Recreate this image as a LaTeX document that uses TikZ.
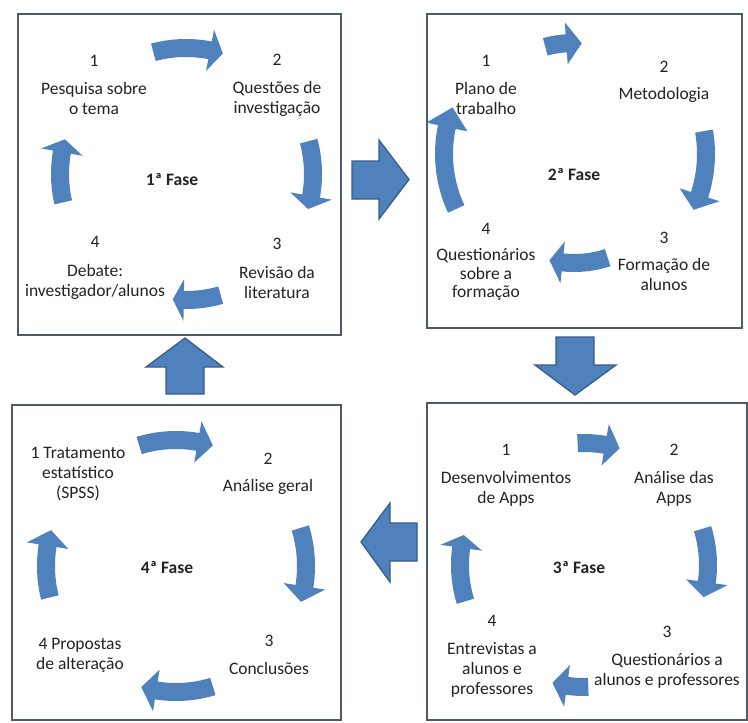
\documentclass[tikz,border=0pt]{standalone}
\usepackage{fontspec}
\setmainfont{Carlito}
\usetikzlibrary{calc}
\definecolor{arrowblue}{RGB}{79,129,189}
\definecolor{arrowedge}{RGB}{56,93,138}
\definecolor{boxedge}{RGB}{78,90,104}
\definecolor{txt}{RGB}{35,35,35}
% curved cycle arrow: #1 cx, #2 cy (pixels, down positive), #3 radius, #4 tail angle, #5 head-base angle, #6 tip angle
\newcommand\cyclearrow[6]{%
  \fill[arrowblue] ($(#1,-#2)+(#4:#3+9)$) arc[start angle=#4, end angle=#5, radius=#3+9]
    -- ($(#1,-#2)+(#5:#3+21)$) -- ($(#1,-#2)+(#6:#3)$) -- ($(#1,-#2)+(#5:#3-21)$)
    -- ($(#1,-#2)+(#5:#3-9)$) arc[start angle=#5, end angle=#4, radius=#3-9] -- cycle;}
\begin{document}
\begin{tikzpicture}[x=1pt,y=1pt,
  phasebox/.style={draw=boxedge, line width=1.6pt, fill=white, inner sep=0pt},
  item/.style={align=center, text=txt, font=\fontsize{17.5}{20}\selectfont, inner sep=0pt},
  phase/.style={text=txt, font=\fontsize{17.5}{20}\selectfont\bfseries, inner sep=0pt},
  bigarrow/.style={fill=arrowblue, draw=arrowedge, line width=1.3pt, line join=miter}]
\useasboundingbox (0,0) rectangle (748,-723);
\fill[white] (0,0) rectangle (748,-723);

% boxes
\node[phasebox, minimum width=323pt, minimum height=321pt] (b1) at (179.5,-174.5) {};
\node[phasebox, minimum width=315pt, minimum height=314pt] (b2) at (584.5,-171) {};
\node[phasebox, minimum width=320pt, minimum height=317pt] (b3) at (587,-561.5) {};
\node[phasebox, minimum width=329pt, minimum height=315pt] (b4) at (176.5,-562.5) {};

% big arrows between phases
\draw[bigarrow] (352,-161) -- (379,-161) -- (379,-140) -- (409,-179.5) -- (379,-219) -- (379,-199) -- (352,-199) -- cycle;
\draw[bigarrow] (556,-337) -- (594,-337) -- (594,-365) -- (616,-365) -- (575,-395) -- (535,-365) -- (556,-365) -- cycle;
\draw[bigarrow] (417,-523) -- (390,-523) -- (390,-503) -- (361,-542) -- (390,-582) -- (390,-561) -- (417,-561) -- cycle;
\draw[bigarrow] (166,-394) -- (166,-367) -- (146,-367) -- (185,-338) -- (223,-367) -- (204,-367) -- (204,-394) -- cycle;

% phase 1
\cyclearrow{186}{174}{126}{105}{79}{73}
\cyclearrow{186}{174}{127}{15}{-10}{-16}
\cyclearrow{186}{174}{126}{-74}{-91}{-96}
\cyclearrow{186}{174}{126}{193}{170}{164}
\node[item] (p1a) at (94,-85) {1\\[8pt]Pesquisa sobre\\o tema};
\node[item] (p1b) at (277,-85) {2\\[8pt]Questões de\\investigação};
\node[item] (p1c) at (277,-268) {3\\[9pt]Revisão da\\literatura};
\node[item] (p1d) at (95,-268) {4\\[9pt]Debate:\\investigador/alunos};
\node[phase] (f1) at (172,-180) {1ª Fase};

% phase 2
\cyclearrow{574}{154}{111}{105}{94}{86}
\cyclearrow{574}{154}{132}{10}{-18}{-25}
\cyclearrow{574}{154}{109}{-72}{-96}{-103}
\cyclearrow{574}{154}{130}{205}{168}{159}
\node[item] (p2a) at (486,-85) {1\\[8pt]Plano de\\trabalho};
\node[item] (p2b) at (664,-82) {2\\[7pt]Metodologia};
\node[item] (p2c) at (664,-261) {3\\[7pt]Formação de\\alunos};
\node[item, font=\fontsize{17.5}{18.5}\selectfont] (p2d) at (486,-262) {4\\[8pt]Questionários\\sobre a\\formação};
\node[phase] (f2) at (574,-175) {2ª Fase};

% phase 3
\cyclearrow{584}{565}{122}{93}{80}{73}
\cyclearrow{584}{565}{124}{17}{-8}{-15}
\cyclearrow{584}{565}{122}{-88}{-98}{-105}
\cyclearrow{584}{565}{124}{197}{172}{166}
\node[item] (p3a) at (506,-475) {1\\[8pt]Desenvolvimentos\\de Apps};
\node[item] (p3b) at (674,-475) {2\\[8pt]Análise das\\Apps};
\node[item] (p3c) at (667,-657) {3\\[8pt]Questionários a\\alunos e professores};
\node[item] (p3d) at (492,-656) {4\\[8pt]Entrevistas a\\alunos e\\professores};
\node[phase] (f3) at (579,-568) {3ª Fase};

% phase 4
\cyclearrow{176}{566}{126}{107}{80}{73}
\cyclearrow{176}{566}{130}{17}{-9}{-16}
\cyclearrow{176}{566}{126}{-73}{-99}{-106}
\cyclearrow{176}{566}{130}{194}{171}{164}
\node[item] (p4a) at (78,-474) {1 Tratamento\\estatístico\\(SPSS)};
\node[item] (p4b) at (268,-474) {2\\[7pt]Análise geral};
\node[item] (p4c) at (269,-655) {3\\[8pt]Conclusões};
\node[item] (p4d) at (80,-655) {4 Propostas\\de alteração};
\node[phase] (f4) at (167,-568) {4ª Fase};
\end{tikzpicture}
\end{document}
